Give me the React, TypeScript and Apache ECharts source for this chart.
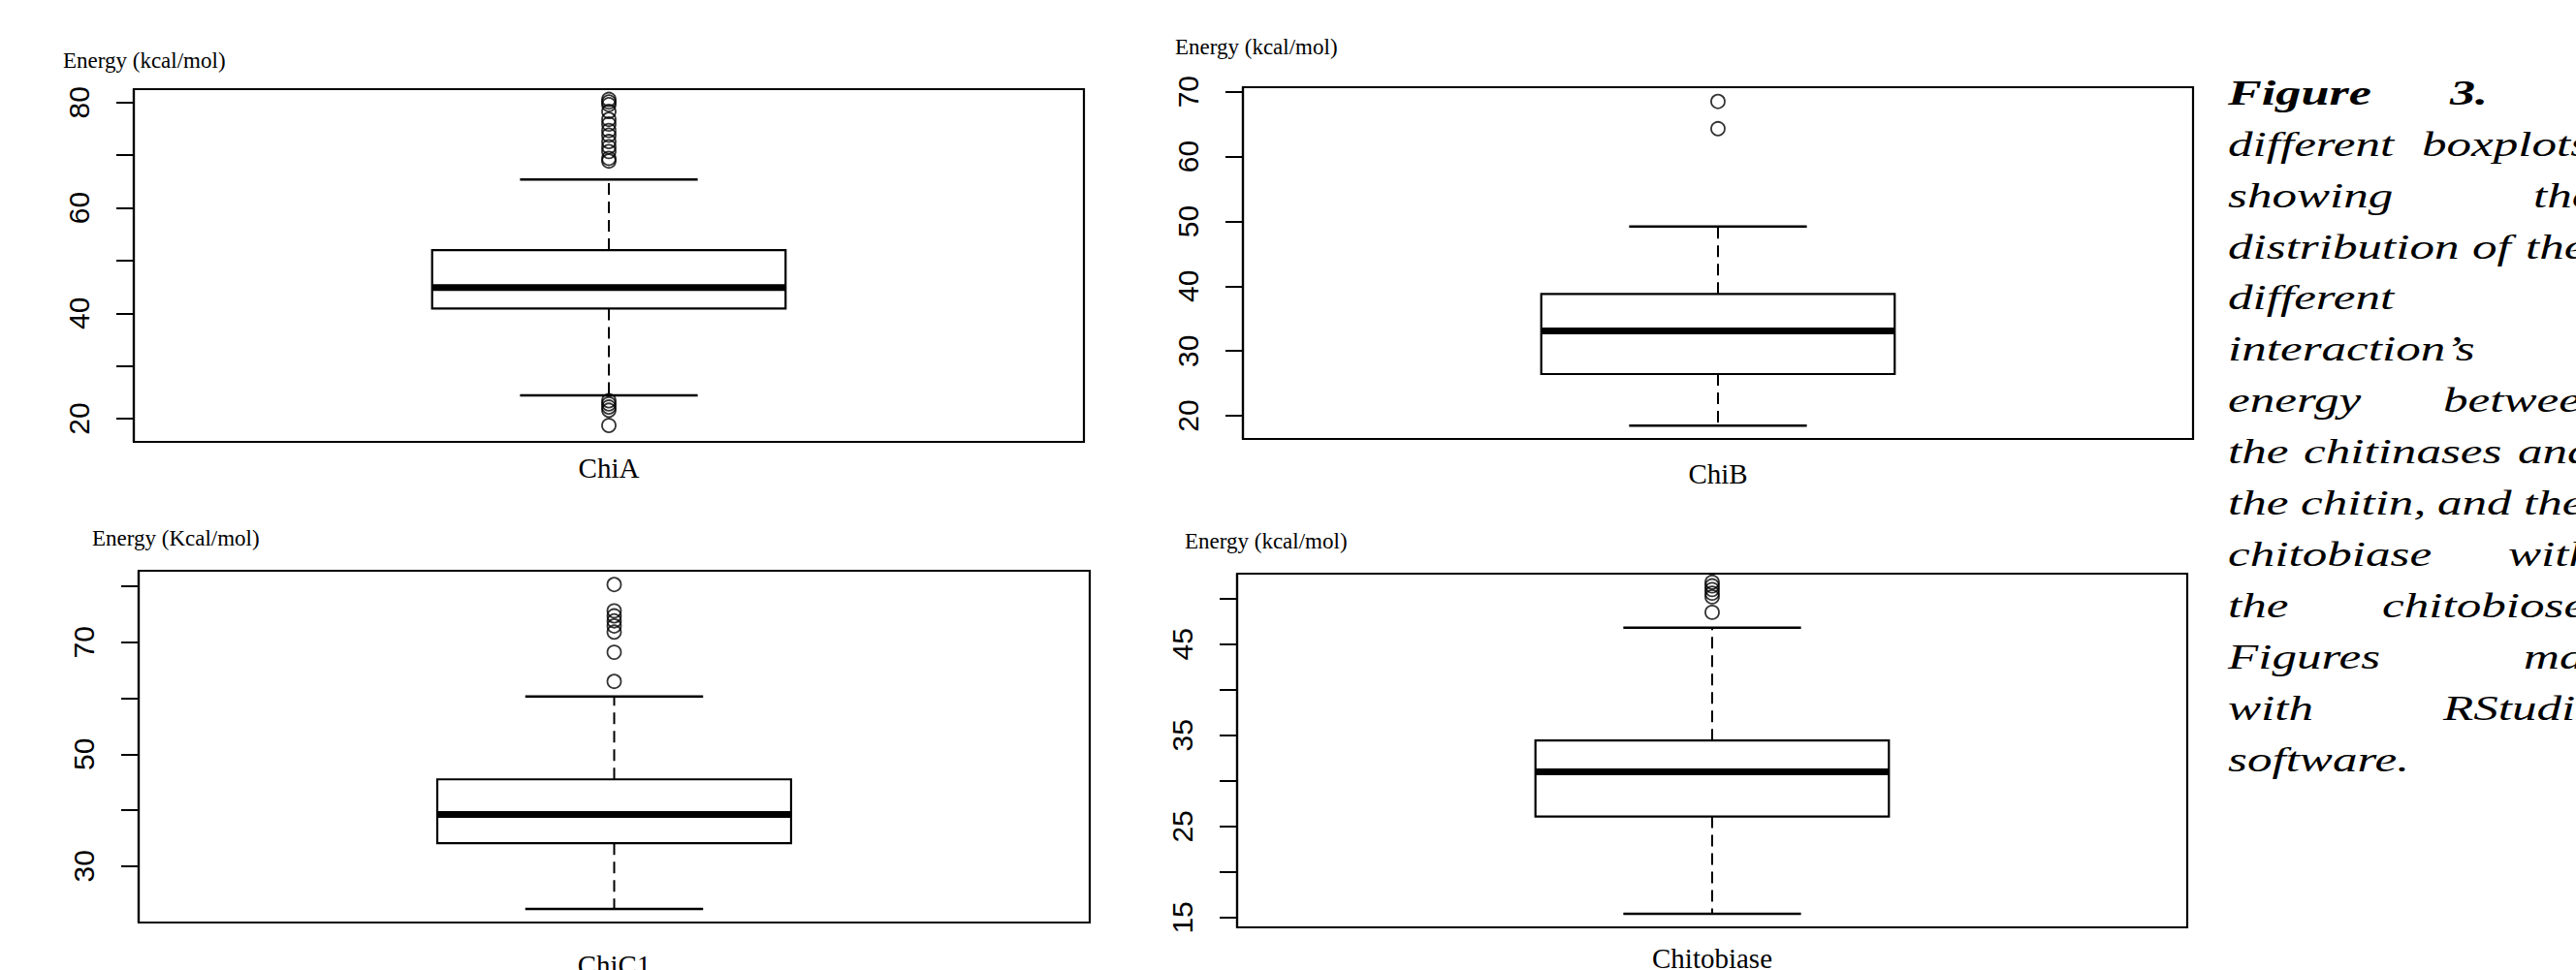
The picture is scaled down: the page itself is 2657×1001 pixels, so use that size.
import React, { useEffect, useRef } from 'react';
import * as echarts from 'echarts';

// ---------------- data ----------------
const categories = ['ChiA', 'ChiB', 'ChiC1', 'Chitobiase'];
const axisTitles = ['Energy (kcal/mol)', 'Energy (kcal/mol)', 'Energy (Kcal/mol)', 'Energy (kcal/mol)'];

const whiskerLow = [24.4, 18.5, 22.35, 15.43];
const q1 = [40.9, 26.45, 34.1, 26.1];
const medians = [44.9, 33.1, 39.25, 31.0];
const q3 = [52.0, 38.8, 45.5, 34.43];
const whiskerHigh = [65.4, 49.2, 60.3, 46.8];

const outliersChiA = [80.6, 80.1, 79.6, 78.3, 76.8, 75.9, 74.7, 73.8, 72.6, 71.6, 70.7, 69.4, 68.9, 23.4, 22.8, 22.2, 21.6, 18.7];
const outliersChiB = [68.5, 64.3];
const outliersChiC1 = [80.3, 75.6, 74.7, 73.8, 72.9, 71.8, 68.2, 63.0];
const outliersChitobiase = [51.8, 51.4, 51.0, 50.6, 50.2, 48.5];
const outliers = [outliersChiA, outliersChiB, outliersChiC1, outliersChitobiase];

const yMin = [15.59, 16.43, 19.93, 13.93];
const yMax = [82.54, 70.7, 82.76, 52.74];
const tickValues = [
  [20, 30, 40, 50, 60, 70, 80],
  [20, 30, 40, 50, 60, 70],
  [30, 40, 50, 60, 70, 80],
  [15, 20, 25, 30, 35, 40, 45, 50],
];
const tickLabels = [
  [20, 40, 60, 80],
  [20, 30, 40, 50, 60, 70],
  [30, 50, 70],
  [15, 25, 35, 45],
];

const captionLines = [
  ['Figure', '3.'],
  ['different', 'boxplots'],
  ['showing', 'the'],
  ['distribution', 'of', 'the'],
  ['different'],
  ['interaction\u2019s'],
  ['energy', 'between'],
  ['the', 'chitinases', 'and'],
  ['the', 'chitin,', 'and', 'the'],
  ['chitobiase', 'with'],
  ['the', 'chitobiose.'],
  ['Figures', 'made'],
  ['with', 'RStudio'],
  ['software.'],
];

// ---------------- layout ----------------
const gridRects = [
  { left: 138, top: 92, width: 980, height: 364 },
  { left: 1282, top: 90, width: 980, height: 363 },
  { left: 143, top: 589, width: 981, height: 363 },
  { left: 1276, top: 592, width: 980, height: 365 },
];
const titlePos = [
  [65, 62.5],
  [1212, 48],
  [95, 555.5],
  [1222, 558.5],
];
const xLabelMargin = [12, 21, 29, 17];
const captionWordX = [
  [2298, 2527],
  [2298, 2498],
  [2298, 2613],
  [2298, 2550, 2605],
  [2298],
  [2298],
  [2298, 2520],
  [2298, 2376, 2597],
  [2298, 2373, 2514, 2603],
  [2298, 2587],
  [2298, 2457],
  [2298, 2603],
  [2298, 2520],
  [2298],
];
const captionTop = 96;
const captionLineH = 52.9;
const BOX_FRAC = 0.372;
const CAP_FRAC = 0.187;

function renderBox(params: any, api: any) {
  const x = api.value(0);
  const pLow = api.coord([x, api.value(1)]);
  const pQ1 = api.coord([x, api.value(2)]);
  const pMed = api.coord([x, api.value(3)]);
  const pQ3 = api.coord([x, api.value(4)]);
  const pHigh = api.coord([x, api.value(5)]);
  const band = api.size([1, 0])[0];
  const bw = band * BOX_FRAC;
  const cw = band * CAP_FRAC;
  const cx = pMed[0];
  const solid = { stroke: '#000', lineWidth: 2.2, fill: 'none' };
  const dashed = { stroke: '#000', lineWidth: 2, lineDash: [12, 7] };
  return {
    type: 'group',
    children: [
      { type: 'line', shape: { x1: cx, y1: pQ3[1], x2: cx, y2: pHigh[1] }, style: dashed },
      { type: 'line', shape: { x1: cx, y1: pQ1[1], x2: cx, y2: pLow[1] }, style: dashed },
      { type: 'line', shape: { x1: cx - cw / 2, y1: pHigh[1], x2: cx + cw / 2, y2: pHigh[1] }, style: { stroke: '#000', lineWidth: 2.5 } },
      { type: 'line', shape: { x1: cx - cw / 2, y1: pLow[1], x2: cx + cw / 2, y2: pLow[1] }, style: { stroke: '#000', lineWidth: 2.5 } },
      { type: 'rect', shape: { x: cx - bw / 2, y: pQ3[1], width: bw, height: pQ1[1] - pQ3[1] }, style: solid },
      { type: 'line', shape: { x1: cx - bw / 2, y1: pMed[1], x2: cx + bw / 2, y2: pMed[1] }, style: { stroke: '#000', lineWidth: 7 } },
    ],
  };
}

export default function App() {
  const ref = useRef<HTMLDivElement>(null);

  useEffect(() => {
    document.body.style.margin = '0';
    const chart = echarts.init(ref.current!, null, { renderer: 'svg' });

    const grid = gridRects.map((g) => ({
      ...g,
      show: true,
      borderColor: '#000',
      borderWidth: 2.2,
      backgroundColor: 'transparent',
      containLabel: false,
      outerBoundsMode: 'none',
    }));

    const xAxis = categories.map((c, i) => ({
      type: 'category',
      gridIndex: i,
      data: [c],
      boundaryGap: true,
      axisLine: { show: false },
      axisTick: { show: false },
      splitLine: { show: false },
      axisLabel: { margin: xLabelMargin[i], fontFamily: 'Liberation Serif', fontSize: 29, color: '#000' },
    }));

    const yAxis = categories.map((_, i) => ({
      type: 'value',
      gridIndex: i,
      min: yMin[i],
      max: yMax[i],
      axisLine: { show: true, onZero: false, lineStyle: { color: '#000', width: 2.2 } },
      splitLine: { show: false },
      axisTick: { show: true, length: 18, lineStyle: { color: '#000', width: 2 }, customValues: tickValues[i] },
      axisLabel: {
        customValues: tickLabels[i],
        rotate: 90,
        margin: 42,
        fontFamily: 'Liberation Sans',
        fontSize: 30,
        color: '#000',
      },
    }));

    const series: any[] = [];
    categories.forEach((c, i) => {
      series.push({
        type: 'custom',
        xAxisIndex: i,
        yAxisIndex: i,
        data: [[c, whiskerLow[i], q1[i], medians[i], q3[i], whiskerHigh[i]]],
        encode: { x: 0, y: [1, 2, 3, 4, 5] },
        renderItem: renderBox,
        silent: true,
      });
      series.push({
        type: 'scatter',
        xAxisIndex: i,
        yAxisIndex: i,
        data: outliers[i].map((v) => [c, v]),
        symbol: 'circle',
        symbolSize: 14,
        itemStyle: { color: 'transparent', borderColor: '#000', borderWidth: 1.8 },
        silent: true,
      });
    });

    const graphic: any[] = [];
    axisTitles.forEach((t, i) => {
      graphic.push({
        type: 'text',
        x: titlePos[i][0],
        y: titlePos[i][1],
        style: {
          text: t,
          fontFamily: 'Liberation Serif',
          fontSize: 23,
          fill: '#000',
          align: 'left',
          verticalAlign: 'middle',
        },
      });
    });
    captionLines.forEach((words, li) => {
      words.forEach((w, wi) => {
        const bold = li === 0;
        graphic.push({
          type: 'text',
          x: captionWordX[li][wi],
          y: captionTop + li * captionLineH,
          scaleX: bold ? 1.45 : 1.42,
          style: {
            text: w,
            fontFamily: 'Liberation Serif',
            fontSize: 36,
            fontStyle: 'italic',
            fontWeight: bold ? 'bold' : 'normal',
            fill: '#000',
            align: 'left',
            verticalAlign: 'middle',
          },
        });
      });
    });

    chart.setOption({
      animation: false,
      backgroundColor: '#fff',
      grid,
      xAxis,
      yAxis,
      series,
      graphic,
    });

    return () => chart.dispose();
  }, []);

  return <div ref={ref} style={{ width: 2657, height: 1001, background: '#fff' }} />;
}
